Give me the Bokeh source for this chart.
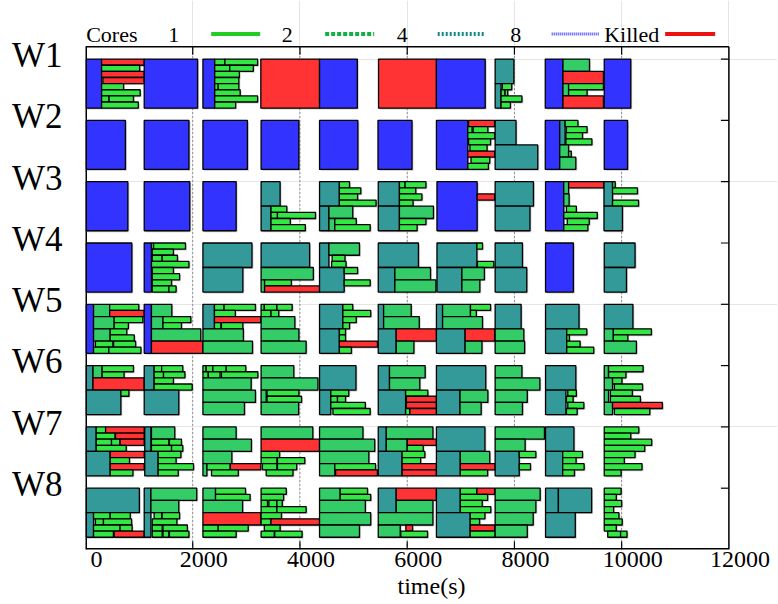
from bokeh.plotting import figure
from bokeh.models import ColumnDataSource, Range1d, LinearAxis, FixedTicker
from bokeh.core.properties import value
from bokeh.embed import file_html
from bokeh.resources import INLINE

# ---------------- data ----------------
# each job: (start_s, end_s, first_core_slot_from_top, cores, killed)
workers = ["W1", "W2", "W3", "W4", "W5", "W6", "W7", "W8"]
x_ticks = [0, 2000, 4000, 6000, 8000, 10000, 12000]
legend_labels = ["1", "2", "4", "8", "Killed"]

W1 = [
    (10, 300, 0, 8, 0), (300, 1095, 0, 1, 1), (300, 1010, 1, 1, 0), (300, 1095, 2, 1, 1),
    (325, 1095, 3, 1, 1), (300, 710, 4, 1, 0), (300, 1020, 5, 1, 0), (300, 440, 6, 1, 0),
    (440, 895, 6, 1, 0), (300, 985, 7, 1, 0), (1095, 2090, 0, 8, 0), (2190, 2410, 0, 8, 0),
    (2410, 2600, 0, 1, 0), (2600, 3210, 0, 1, 0), (2410, 2690, 1, 1, 0), (2690, 3130, 1, 1, 0),
    (2410, 2870, 2, 1, 0), (2410, 2860, 3, 1, 0), (2410, 2475, 4, 1, 0), (2475, 2860, 4, 1, 0),
    (2410, 2885, 5, 1, 0), (2410, 3210, 6, 1, 0), (2410, 2800, 7, 1, 0), (3270, 4365, 0, 8, 1),
    (4365, 5070, 0, 8, 0), (5465, 6545, 0, 8, 1), (6545, 7455, 0, 8, 0), (7640, 7990, 0, 4, 0),
    (7640, 7750, 4, 4, 0), (7775, 7950, 4, 1, 0), (7750, 7825, 5, 1, 0), (7825, 7875, 5, 1, 0),
    (7750, 8140, 6, 1, 0), (7750, 7925, 7, 1, 0), (8575, 8905, 0, 8, 0), (8905, 9400, 0, 2, 0),
    (8905, 9660, 2, 2, 1), (8905, 9010, 4, 2, 0), (9010, 9660, 4, 1, 0), (9010, 9355, 5, 1, 0),
    (8905, 9660, 6, 2, 1), (9675, 10170, 0, 8, 0),
]
W2 = [
    (10, 745, 0, 8, 0), (1095, 1930, 0, 8, 0), (2190, 3020, 0, 8, 0), (3275, 3980, 0, 8, 0),
    (4365, 5080, 0, 8, 0), (5455, 6090, 0, 8, 0), (6545, 7130, 0, 8, 0), (7145, 7630, 0, 1, 1),
    (7130, 7210, 1, 1, 0), (7230, 7505, 1, 1, 0), (7130, 7630, 2, 1, 0), (7145, 7555, 3, 1, 0),
    (7170, 7490, 4, 1, 0), (7130, 7630, 5, 1, 1), (7190, 7540, 6, 1, 0), (7130, 7515, 7, 1, 0),
    (7640, 8030, 0, 4, 0), (7640, 8435, 4, 4, 0), (8575, 8845, 0, 8, 0), (8845, 8945, 0, 4, 0),
    (8945, 9185, 0, 1, 0), (8970, 9355, 1, 1, 0), (8960, 9270, 2, 1, 0), (8960, 9445, 3, 1, 0),
    (8845, 9010, 4, 2, 0), (9010, 9060, 5, 1, 0), (8845, 9145, 6, 2, 0), (9675, 10110, 0, 8, 0),
]
W3 = [
    (10, 790, 0, 8, 0), (1095, 1945, 0, 8, 0), (2190, 2810, 0, 8, 0), (3275, 3630, 0, 4, 0),
    (3275, 3460, 4, 4, 0), (3460, 3755, 4, 1, 0), (3460, 3580, 5, 1, 0), (3580, 4290, 5, 1, 0),
    (3460, 3820, 6, 1, 0), (3460, 4100, 7, 1, 0), (4365, 4735, 0, 4, 0), (4735, 4925, 0, 1, 0),
    (4735, 5135, 1, 1, 0), (4735, 5075, 2, 1, 0), (4735, 5420, 3, 1, 0), (4365, 4540, 4, 4, 0),
    (4540, 4985, 4, 2, 0), (4540, 4650, 6, 2, 0), (4650, 5050, 6, 1, 0), (4650, 5310, 7, 1, 0),
    (5460, 5855, 0, 4, 0), (5855, 5960, 0, 1, 0), (5960, 6350, 0, 1, 0), (5855, 6160, 1, 1, 0),
    (5855, 6275, 2, 1, 0), (5855, 6110, 3, 1, 0), (5460, 5855, 4, 4, 0), (5855, 6490, 4, 2, 0),
    (5855, 6350, 6, 1, 0), (5855, 6185, 7, 1, 0), (6555, 7305, 0, 8, 0), (7305, 7630, 2, 1, 1),
    (7640, 8355, 0, 4, 0), (7640, 8290, 4, 4, 0), (8580, 8920, 0, 8, 0), (8920, 9010, 0, 2, 0),
    (9010, 9670, 0, 1, 1), (8920, 9020, 2, 2, 0), (8970, 9155, 4, 1, 0), (8920, 9545, 5, 1, 0),
    (8985, 9395, 6, 1, 0), (8920, 9370, 7, 1, 0), (9670, 9830, 0, 4, 0), (9830, 9880, 0, 1, 0),
    (9830, 10295, 1, 1, 0), (9830, 10315, 3, 1, 0), (9670, 10015, 4, 4, 0),
]
W4 = [
    (10, 865, 0, 8, 0), (1095, 1230, 0, 8, 0), (1230, 1270, 0, 1, 0), (1270, 1865, 0, 1, 0),
    (1245, 1640, 1, 1, 0), (1245, 1430, 2, 1, 0), (1430, 1715, 2, 1, 0), (1230, 1930, 3, 1, 0),
    (1245, 1640, 4, 1, 0), (1245, 1755, 5, 1, 0), (1245, 1605, 6, 1, 0), (1245, 1555, 7, 1, 0),
    (1555, 1690, 7, 1, 0), (2190, 3105, 0, 4, 0), (2190, 2935, 4, 4, 0), (3275, 4180, 0, 4, 0),
    (3275, 4250, 4, 2, 0), (3275, 3340, 6, 2, 0), (3340, 3840, 6, 1, 0), (3340, 4365, 7, 1, 1),
    (4365, 4540, 0, 4, 0), (4540, 5110, 0, 2, 0), (4600, 4840, 2, 1, 0), (4590, 4860, 3, 1, 0),
    (4365, 4825, 4, 4, 0), (4825, 5075, 4, 1, 0), (4825, 5310, 6, 1, 0), (5460, 6210, 0, 4, 0),
    (5460, 5770, 4, 4, 0), (5770, 6435, 4, 2, 0), (5770, 6535, 6, 2, 0), (6555, 7300, 0, 4, 0),
    (7300, 7405, 0, 1, 0), (7310, 7615, 3, 1, 0), (6555, 7020, 4, 4, 0), (7020, 7440, 4, 2, 0),
    (7020, 7355, 6, 2, 0), (7640, 8150, 0, 4, 0), (7640, 8230, 4, 4, 0), (8580, 9100, 0, 8, 0),
    (9675, 10250, 0, 4, 0), (9675, 10090, 4, 4, 0),
]
W5 = [
    (10, 150, 0, 8, 0), (150, 450, 0, 2, 0), (450, 995, 0, 1, 0), (450, 1095, 1, 1, 1),
    (150, 535, 2, 2, 0), (535, 1070, 2, 1, 0), (535, 800, 3, 1, 0), (150, 460, 4, 2, 0),
    (460, 770, 4, 1, 0), (460, 910, 5, 1, 0), (185, 510, 6, 1, 0), (525, 935, 6, 1, 0),
    (150, 435, 7, 1, 0), (435, 1035, 7, 1, 0), (1095, 1230, 0, 8, 0), (1230, 1610, 0, 2, 0),
    (1230, 1445, 2, 2, 0), (1445, 1965, 2, 1, 0), (1445, 1790, 3, 1, 0), (1230, 2150, 4, 2, 0),
    (1230, 2190, 6, 2, 1), (2190, 2405, 0, 4, 0), (2405, 2585, 0, 1, 0), (2585, 3170, 0, 1, 0),
    (2405, 2795, 1, 1, 0), (2405, 3270, 2, 1, 1), (2405, 2525, 3, 1, 0), (2535, 2935, 3, 1, 0),
    (2190, 2945, 4, 2, 0), (2190, 3115, 6, 2, 0), (3275, 3335, 0, 1, 0), (3335, 3570, 0, 1, 0),
    (3570, 3855, 0, 1, 0), (3275, 3460, 1, 1, 0), (3460, 3605, 1, 1, 0), (3275, 3905, 2, 2, 0),
    (3275, 3980, 4, 2, 0), (3275, 4115, 6, 2, 0), (4365, 4800, 0, 4, 0), (4800, 4985, 0, 1, 0),
    (4800, 5320, 1, 1, 0), (4800, 5050, 2, 1, 0), (4800, 4925, 3, 1, 0), (4365, 4735, 4, 4, 0),
    (4735, 4850, 4, 1, 0), (4735, 4850, 5, 1, 0), (4735, 5445, 6, 1, 1), (4735, 4960, 7, 1, 0),
    (5460, 5560, 0, 4, 0), (5560, 6075, 0, 2, 0), (5560, 6225, 2, 2, 0), (5460, 5795, 4, 4, 0),
    (5795, 6545, 4, 2, 1), (5795, 6125, 6, 2, 0), (6545, 6660, 0, 4, 0), (6660, 7180, 0, 2, 0),
    (7180, 7555, 0, 1, 0), (7180, 7290, 1, 1, 0), (6660, 7405, 2, 2, 0), (6545, 7080, 4, 4, 0),
    (7080, 7630, 4, 2, 1), (7080, 7395, 6, 2, 0), (7640, 8125, 0, 4, 0), (7640, 8175, 4, 2, 0),
    (7640, 8190, 6, 2, 0), (8580, 9205, 0, 4, 0), (8580, 8975, 4, 4, 0), (8975, 9350, 4, 1, 0),
    (8975, 9025, 5, 1, 0), (8975, 9225, 6, 1, 0), (8975, 9480, 7, 1, 0), (9675, 10210, 0, 4, 0),
    (9675, 9845, 4, 2, 0), (9845, 10555, 4, 1, 0), (9845, 10115, 5, 1, 0), (9675, 10275, 6, 2, 0),
]
W6 = [
    (10, 140, 0, 4, 0), (140, 310, 0, 2, 0), (310, 895, 0, 1, 0), (310, 720, 1, 1, 0),
    (140, 1095, 2, 2, 1), (10, 660, 4, 4, 0), (660, 810, 4, 1, 0), (1095, 1280, 0, 4, 0),
    (1280, 1420, 0, 1, 0), (1420, 1815, 0, 1, 0), (1280, 1455, 1, 1, 0), (1455, 1855, 1, 1, 0),
    (1280, 1640, 2, 1, 0), (1280, 1990, 3, 1, 0), (1095, 1740, 4, 4, 0), (2190, 2250, 0, 1, 0),
    (2250, 2375, 0, 1, 0), (2375, 2625, 0, 1, 0), (2625, 2990, 0, 1, 0), (2190, 2290, 1, 1, 0),
    (2290, 2510, 1, 1, 0), (2535, 3215, 1, 1, 0), (2190, 3090, 2, 2, 0), (2190, 3170, 4, 2, 0),
    (2190, 2965, 6, 2, 0), (3275, 3885, 0, 2, 0), (3275, 4335, 2, 2, 0), (3275, 3370, 4, 2, 0),
    (3385, 3980, 4, 1, 0), (3385, 4030, 5, 1, 0), (3275, 3975, 6, 2, 0), (4365, 5045, 0, 4, 0),
    (4365, 4575, 4, 4, 0), (4575, 4910, 4, 1, 0), (4575, 4700, 5, 1, 0), (4700, 4850, 5, 1, 0),
    (4575, 5220, 6, 1, 0), (4615, 5310, 7, 1, 0), (5460, 5670, 0, 4, 0), (5670, 6335, 0, 2, 0),
    (5670, 6235, 2, 2, 0), (5460, 5970, 4, 4, 0), (5970, 6385, 4, 1, 0), (5985, 6545, 5, 1, 1),
    (5985, 6545, 6, 1, 1), (5970, 6050, 7, 1, 0), (6050, 6545, 7, 1, 1), (6545, 7465, 0, 4, 0),
    (6545, 6985, 4, 4, 0), (6985, 7505, 4, 2, 0), (6985, 7380, 6, 2, 0), (7640, 8140, 0, 2, 0),
    (7640, 8475, 2, 2, 0), (7640, 8240, 4, 2, 0), (7640, 8150, 6, 2, 0), (8580, 9145, 0, 4, 0),
    (8580, 8960, 4, 4, 0), (8995, 9155, 4, 1, 0), (8970, 9095, 5, 1, 0), (8995, 9295, 6, 1, 0),
    (8970, 9170, 7, 1, 0), (9675, 9755, 0, 2, 0), (9755, 10400, 0, 1, 0), (9755, 10080, 1, 1, 0),
    (9675, 9830, 2, 2, 0), (9830, 10005, 2, 1, 0), (9865, 10390, 3, 1, 0), (9675, 9755, 4, 2, 0),
    (9790, 10200, 4, 1, 0), (9790, 10350, 5, 1, 0), (9675, 9830, 6, 2, 0), (9830, 10760, 6, 1, 1),
    (9865, 10525, 7, 1, 0),
]
W7 = [
    (10, 200, 0, 4, 0), (200, 375, 0, 1, 0), (375, 1095, 0, 1, 1), (200, 550, 1, 1, 0),
    (560, 1095, 1, 1, 1), (200, 485, 2, 1, 0), (485, 645, 2, 1, 0), (645, 1095, 2, 1, 1),
    (200, 760, 3, 1, 0), (10, 460, 4, 4, 0), (460, 1095, 4, 1, 1), (460, 820, 5, 1, 0),
    (460, 1095, 6, 1, 1), (460, 885, 7, 1, 0), (1105, 1220, 0, 4, 0), (1230, 1665, 0, 2, 0),
    (1230, 1555, 2, 1, 0), (1565, 1790, 2, 1, 0), (1230, 1605, 3, 1, 0), (1605, 1815, 3, 1, 0),
    (1105, 1355, 4, 4, 0), (1355, 1780, 4, 1, 0), (1355, 1690, 5, 1, 0), (1355, 2015, 6, 1, 0),
    (1355, 1730, 7, 1, 0), (2190, 2810, 0, 2, 0), (2190, 3095, 2, 2, 0), (2190, 2730, 4, 2, 0),
    (2190, 2265, 6, 2, 0), (2265, 2700, 6, 1, 0), (2700, 3270, 6, 1, 1), (2350, 2850, 7, 1, 0),
    (3275, 4240, 0, 2, 0), (3275, 4365, 2, 2, 1), (3275, 3620, 4, 1, 0), (3275, 3570, 5, 1, 0),
    (3580, 4090, 5, 1, 0), (3300, 3570, 6, 1, 0), (3580, 3940, 6, 1, 0), (3370, 3870, 7, 1, 0),
    (4365, 5175, 0, 2, 0), (4365, 5395, 2, 2, 0), (4365, 5285, 4, 2, 0), (4365, 4650, 6, 2, 0),
    (4650, 5410, 6, 1, 0), (4665, 5445, 7, 1, 1), (5460, 5610, 0, 4, 0), (5610, 6480, 0, 2, 0),
    (5610, 6000, 2, 2, 0), (6000, 6545, 2, 1, 1), (6000, 6300, 3, 1, 0), (5460, 5905, 4, 4, 0),
    (5905, 6330, 4, 1, 0), (5905, 6250, 5, 1, 0), (5905, 6545, 6, 1, 1), (5905, 6545, 7, 1, 1),
    (6545, 7450, 0, 4, 0), (6545, 6990, 4, 4, 0), (6990, 7540, 4, 2, 0), (6990, 7640, 6, 1, 1),
    (6990, 7500, 7, 1, 0), (7640, 8560, 0, 2, 0), (7640, 8200, 2, 2, 0), (7640, 8090, 4, 4, 0),
    (8090, 8400, 4, 1, 0), (8090, 8300, 6, 1, 0), (8580, 9110, 0, 4, 0), (8580, 8900, 4, 4, 0),
    (8900, 9270, 4, 1, 0), (8900, 9150, 5, 1, 0), (8900, 9300, 6, 1, 0), (8900, 9120, 7, 1, 0),
    (9675, 10320, 0, 1, 0), (9675, 10170, 1, 1, 0), (9675, 10560, 2, 1, 0), (9675, 10430, 3, 1, 0),
    (9675, 10250, 4, 1, 0), (9675, 10050, 5, 1, 0), (9675, 10380, 6, 1, 0), (9675, 9990, 7, 1, 0),
]
W8 = [
    (10, 1005, 0, 4, 0), (10, 150, 4, 4, 0), (150, 460, 4, 1, 0), (460, 835, 4, 1, 0),
    (185, 335, 5, 1, 0), (335, 860, 5, 1, 0), (150, 645, 6, 1, 0), (645, 870, 6, 1, 0),
    (150, 520, 7, 1, 0), (535, 1095, 7, 1, 1), (1095, 1220, 0, 4, 0), (1095, 1220, 4, 4, 0),
    (1220, 2075, 0, 2, 0), (1220, 1740, 2, 2, 0), (1280, 1420, 4, 1, 0), (1430, 1755, 4, 1, 0),
    (1245, 1705, 5, 1, 0), (1245, 1430, 6, 1, 0), (1445, 1900, 6, 1, 0), (1245, 1430, 7, 1, 0),
    (1445, 1555, 7, 1, 0), (1565, 1930, 7, 1, 0), (2190, 2425, 0, 2, 0), (2425, 2985, 0, 1, 0),
    (2425, 3070, 1, 1, 0), (2190, 2930, 2, 2, 0), (2190, 3270, 4, 2, 1), (2190, 2475, 6, 1, 0),
    (2475, 3035, 6, 1, 0), (2190, 2810, 7, 1, 0), (3275, 3745, 0, 1, 0), (3275, 3695, 1, 1, 0),
    (3275, 3395, 2, 1, 0), (3420, 3570, 2, 1, 0), (3570, 3670, 2, 1, 0), (3275, 3570, 3, 1, 0),
    (3570, 4115, 3, 1, 0), (3275, 3655, 4, 1, 0), (3275, 3460, 5, 1, 0), (3460, 4365, 5, 1, 1),
    (3335, 3630, 6, 1, 0), (3275, 3520, 7, 1, 0), (3530, 4040, 7, 1, 0), (4365, 4750, 0, 2, 0),
    (4750, 5260, 0, 1, 0), (4750, 5320, 1, 1, 0), (4365, 5220, 2, 2, 0), (4365, 5320, 4, 2, 0),
    (4365, 5110, 6, 2, 0), (5460, 5795, 0, 4, 0), (5795, 6545, 0, 2, 1), (5795, 6480, 2, 2, 0),
    (5460, 6480, 4, 2, 0), (5460, 5870, 6, 2, 0), (5975, 6100, 6, 1, 1), (5880, 6380, 7, 1, 0),
    (6545, 6990, 0, 4, 0), (6990, 7300, 0, 1, 0), (7300, 7630, 0, 1, 1), (6990, 7500, 1, 1, 0),
    (6990, 7400, 2, 1, 0), (6990, 7560, 3, 1, 0), (6545, 7175, 4, 4, 0), (7175, 7450, 4, 1, 0),
    (7175, 7350, 5, 1, 0), (7175, 7630, 6, 1, 1), (7175, 7640, 7, 1, 0), (7640, 8480, 0, 2, 0),
    (7640, 8400, 2, 2, 0), (7640, 8350, 4, 2, 0), (7640, 8240, 6, 2, 0), (8580, 8820, 0, 4, 0),
    (8820, 9440, 0, 4, 0), (8580, 9135, 4, 4, 0), (9675, 9990, 0, 1, 0), (9675, 9900, 1, 1, 0),
    (9675, 10000, 2, 1, 0), (9675, 9850, 3, 1, 0), (9675, 9950, 4, 1, 0), (9675, 10010, 5, 1, 0),
    (9675, 9900, 6, 1, 0), (9740, 9980, 7, 1, 0), (9980, 10100, 7, 1, 0),
]
worker_jobs = [W1, W2, W3, W4, W5, W6, W7, W8]

# ---------------- styles / layout ----------------
CORE_COLORS = {1: "#33e644", 2: "#33cc66", 4: "#339999", 8: "#3333ff"}
KILLED_COLOR = "#ff3333"
LEGEND_STYLES = [("#22cc22", "solid", 4), ("#11b044", "4 2", 4), ("#118888", "2 2", 4),
                 ("#4444ff", "1 1", 3), ("#ee1111", "solid", 4)]
FONT = "Liberation Serif"

ROW_PERIOD = 10.0      # y units per worker row
SLOTS = 8              # core slots per worker
BOTTOM_PAD = 2.0
BOX_TOP = BOTTOM_PAD + ROW_PERIOD * (len(workers) - 1) + SLOTS + 2.0   # 82
PX_PER_UNIT = 6.13
FIG_W, FIG_H = 777, 603
BORDER_L, BORDER_B = 85, 54
FRAME_W, FRAME_H = FIG_W - BORDER_L, FIG_H - BORDER_B
S_PER_PX = 12000 / 643.4
X_END = FRAME_W * S_PER_PX
Y_TOP = FRAME_H / PX_PER_UNIT
LABEL_SHIFT = 11 * S_PER_PX

# ---------------- build rectangles ----------------
L, R, B, T, C = [], [], [], [], []
for wi, jobs in enumerate(worker_jobs):
    base = BOTTOM_PAD + ROW_PERIOD * (len(workers) - 1 - wi)
    for (s, e, slot, cores, killed) in jobs:
        top = base + SLOTS - slot
        L.append(s); R.append(e); T.append(top); B.append(top - cores)
        C.append(KILLED_COLOR if killed else CORE_COLORS[cores])

src = ColumnDataSource(dict(left=L, right=R, top=T, bottom=B, color=C))
dx = 1.4 * S_PER_PX
dy = 1.4 / PX_PER_UNIT
shadow = ColumnDataSource(dict(left=[v + dx for v in L], right=[v + dx for v in R],
                               top=[v - dy for v in T], bottom=[v - dy for v in B]))

p = figure(width=FIG_W, height=FIG_H, x_range=Range1d(0, X_END), y_range=Range1d(0, Y_TOP),
           output_backend="svg", toolbar_location=None,
           x_axis_location=None, y_axis_location=None,
           min_border_left=BORDER_L, min_border_right=0, min_border_top=0,
           min_border_bottom=BORDER_B)
p.outline_line_color = None
p.background_fill_color = "white"
p.border_fill_color = "white"

# dotted grid lines (behind boxes)
grid_x = x_ticks[1:-1]
p.segment(x0=grid_x, x1=grid_x, y0=[0] * len(grid_x), y1=[BOX_TOP] * len(grid_x),
          line_color="#333333", line_width=1, line_dash="1 3")

# shadows and job boxes
p.quad(left="left", right="right", top="top", bottom="bottom", source=shadow,
       fill_color="#888888", fill_alpha=0.45, line_color=None)
p.quad(left="left", right="right", top="top", bottom="bottom", source=src,
       fill_color="color", line_color="black", line_width=1.3)

# frame
p.segment(x0=[0, 0], x1=[0, 12000], y0=[0, 0], y1=[BOX_TOP, 0], line_color="black", line_width=3)
p.segment(x0=[12000, 0], x1=[12000, 12000], y0=[0, BOX_TOP], y1=[BOX_TOP, BOX_TOP],
          line_color="black", line_width=1.5)
tick_h = 8 / PX_PER_UNIT
inner = x_ticks[1:-1]
p.segment(x0=inner, x1=inner, y0=[0] * len(inner), y1=[tick_h] * len(inner),
          line_color="black", line_width=1.2)
p.segment(x0=inner, x1=inner, y0=[BOX_TOP] * len(inner), y1=[BOX_TOP - tick_h] * len(inner),
          line_color="black", line_width=1.2)
row_tops = [BOTTOM_PAD + ROW_PERIOD * (len(workers) - 1 - i) + SLOTS for i in range(len(workers))]
tick_w = 8 * S_PER_PX
p.segment(x0=[12000 - tick_w] * len(row_tops), x1=[12000] * len(row_tops), y0=row_tops, y1=row_tops,
          line_color="black", line_width=1.2)

# legend (label then sample, gnuplot style)
leg_y = (FRAME_H - 34) / PX_PER_UNIT
p.text(x=[13], y=[leg_y], text=["Cores"], text_font=value(FONT), text_font_size="22px",
       text_align="left", text_baseline="middle", text_color="black")
label_right = [1748, 3864, 6009, 8126, 10700]
line_spans = [(2344, 3258), (4470, 5384), (6569, 7436), (8695, 9581), (10811, 11744)]
p.text(x=label_right, y=[leg_y] * 5, text=legend_labels, text_font=value(FONT),
       text_font_size="22px", text_align="right", text_baseline="middle", text_color="black")
for (x0, x1), (col, dash, lw) in zip(line_spans, LEGEND_STYLES):
    p.line(x=[x0, x1], y=[leg_y + 0.1, leg_y + 0.1], line_color=col, line_dash=dash, line_width=lw)

# left axis: worker names
w_ticks = [t + 0.6 for t in row_tops]
yax = LinearAxis(ticker=FixedTicker(ticks=w_ticks),
                 major_label_overrides={t: w for t, w in zip(w_ticks, workers)})
yax.axis_line_color = None
yax.major_tick_line_color = None
yax.minor_tick_line_color = None
yax.major_tick_out = 0
yax.major_tick_in = 0
yax.minor_tick_out = 0
yax.major_label_standoff = 23
yax.major_label_text_font = FONT
yax.major_label_text_font_size = "35px"
yax.major_label_text_color = "black"
p.add_layout(yax, "left")

# bottom axis: time labels (labels offset right like the original)
p.extra_x_ranges = {"lbl": Range1d(-LABEL_SHIFT, X_END - LABEL_SHIFT)}
xax = LinearAxis(x_range_name="lbl", ticker=FixedTicker(ticks=x_ticks), axis_label="time(s)")
xax.axis_line_color = None
xax.major_tick_line_color = None
xax.minor_tick_line_color = None
xax.major_tick_out = 0
xax.major_tick_in = 0
xax.minor_tick_out = 0
xax.major_label_standoff = 2
xax.major_label_text_font = FONT
xax.major_label_text_font_size = "24px"
xax.major_label_text_color = "black"
xax.axis_label_standoff = 3
xax.axis_label_text_font = FONT
xax.axis_label_text_font_size = "24px"
xax.axis_label_text_font_style = "normal"
xax.axis_label_text_color = "black"
p.add_layout(xax, "below")

open("out.html", "w").write(file_html(p, INLINE))
